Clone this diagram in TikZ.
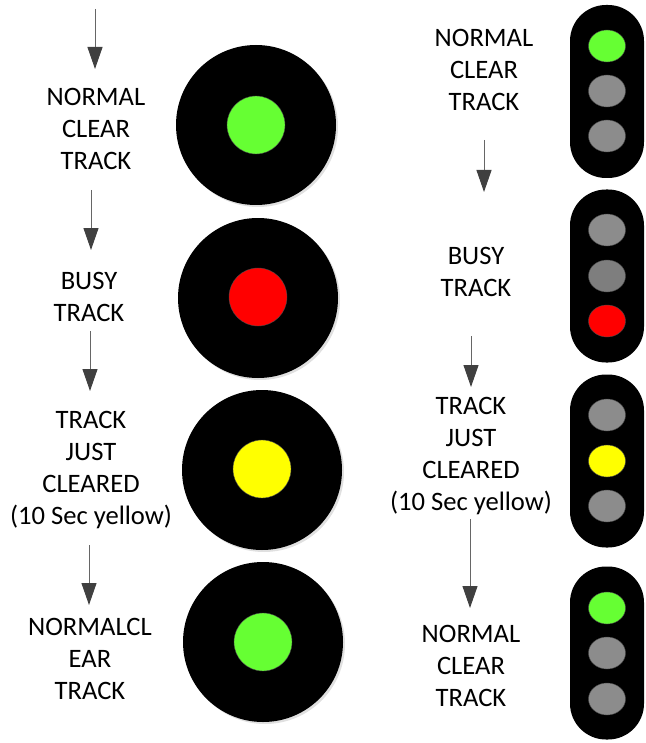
\documentclass[tikz,border=0pt]{standalone}
\usepackage{fontspec}
\setmainfont{Carlito}
\usetikzlibrary{arrows.meta,shapes.geometric,shadows}
\definecolor{lampgreen}{HTML}{66FF33}
\definecolor{lampred}{HTML}{FF0000}
\definecolor{lampyellow}{HTML}{FFFF00}
\definecolor{lampgrey}{HTML}{8C8C8C}
\definecolor{arrowgrey}{HTML}{404040}
\tikzset{
  label text/.style={align=center,font=\fontsize{26.6}{32}\selectfont,inner sep=0pt},
  flow/.style={draw=arrowgrey!80,line width=1pt,-{Triangle[width=15pt,length=22pt,color=arrowgrey]}},
  disc/.style={circle,fill=black,minimum size=160pt,inner sep=0pt,
    drop shadow={shadow xshift=2pt,shadow yshift=-2pt,fill=black!12,opacity=1}},
  lamp/.style={circle,fill=#1,draw=black!70,line width=.4pt,minimum size=58pt,inner sep=0pt},
  signal/.style={rectangle,rounded corners=36pt,fill=black,minimum width=74pt,minimum height=173pt,inner sep=0pt},
  bulb/.style={ellipse,fill=#1,draw=black!70,line width=.4pt,minimum width=37pt,minimum height=32pt,inner sep=0pt},
}
\begin{document}
\begin{tikzpicture}[x=1pt,y=-1pt]
\useasboundingbox (0,0) rectangle (645,743);
% left column
\node[label text] (clear1) at (96,129) {NORMAL\\CLEAR\\TRACK};
\node[label text] (busy1) at (89,297) {BUSY\\TRACK};
\node[label text] (just1) at (91,470) {TRACK\\JUST\\CLEARED\\(10 Sec yellow)};
\node[label text] (again1) at (90,658.5) {NORMALCL\\EAR\\TRACK};
\node[disc] (d1) at (256,125) {};
\node[lamp=lampgreen] (l1) at (256,125) {};
\node[disc] (d2) at (258,298) {};
\node[lamp=lampred] (l2) at (258,297) {};
\node[disc] (d3) at (262,470) {};
\node[lamp=lampyellow] (l3) at (262,469) {};
\node[disc] (d4) at (263,642) {};
\node[lamp=lampgreen] (l4) at (263,642) {};
\coordinate (a0) at (95,9);
\coordinate (b0) at (95,69);
\coordinate (a1) at (91,190);
\coordinate (b1) at (91,250);
\coordinate (a2) at (90,331);
\coordinate (b2) at (90,391);
\coordinate (a3) at (89,545);
\coordinate (b3) at (89,605);
\draw[flow] (a0) -- (b0);
\draw[flow] (a1) -- (b1);
\draw[flow] (a2) -- (b2);
\draw[flow] (a3) -- (b3);
% right column
\node[label text] (clear2) at (484,70) {NORMAL\\CLEAR\\TRACK};
\node[label text] (busy2) at (476,272) {BUSY\\TRACK};
\node[label text] (just2) at (471,456) {TRACK\\JUST\\CLEARED\\(10 Sec yellow)};
\node[label text] (again2) at (471,666) {NORMAL\\CLEAR\\TRACK};
\node[signal] (s1) at (607,91.5) {};
\node[bulb=lampgreen] at (607,46) {};
\node[bulb=lampgrey] at (607,91) {};
\node[bulb=lampgrey] at (607,136) {};
\node[signal] (s2) at (607,276) {};
\node[bulb=lampgrey] at (607,230) {};
\node[bulb=lampgrey!90!black] at (607,276) {};
\node[bulb=lampred] at (607,321) {};
\node[signal] (s3) at (607,461) {};
\node[bulb=lampgrey] at (607,415) {};
\node[bulb=lampyellow] at (607,461) {};
\node[bulb=lampgrey] at (607,506) {};
\node[signal] (s4) at (607,653) {};
\node[bulb=lampgreen] at (607,608) {};
\node[bulb=lampgrey] at (607,653) {};
\node[bulb=lampgrey] at (607,699) {};
\coordinate (c1) at (484,140);
\coordinate (e1) at (484,192);
\coordinate (c2) at (471,336);
\coordinate (e2) at (471,387);
\coordinate (c3) at (470,519);
\coordinate (e3) at (470,608);
\draw[flow] (c1) -- (e1);
\draw[flow] (c2) -- (e2);
\draw[flow] (c3) -- (e3);
\end{tikzpicture}
\end{document}
